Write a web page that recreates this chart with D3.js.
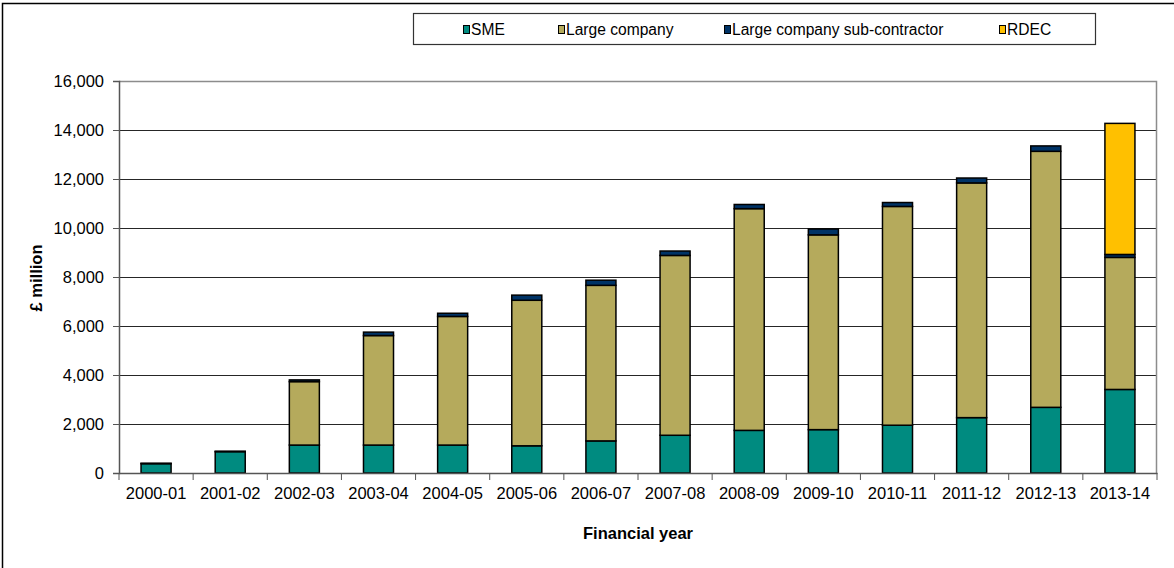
<!DOCTYPE html>
<html>
<head>
<meta charset="utf-8">
<script src="https://cdn.jsdelivr.net/npm/d3@7"></script>
<style>
  body { margin: 0; background: #fff; }
  text { font-family: Arial, "Liberation Sans", sans-serif; fill: #000; }
</style>
</head>
<body>
<div id="chart"></div>
<script>
// categorias e séries
const years = ["2000-01", "2001-02", "2002-03", "2003-04", "2004-05", "2005-06", "2006-07",
  "2007-08", "2008-09", "2009-10", "2010-11", "2011-12", "2012-13", "2013-14"];
const sme = [380, 870, 1140, 1140, 1140, 1110, 1310, 1540, 1740, 1770, 1950, 2260, 2680, 3410];
const largeCompany = [0, 0, 2590, 4470, 5250, 5940, 6350, 7340, 9050, 7950, 8930, 9580, 10450, 5390];
const subContractor = [20, 20, 70, 140, 130, 210, 210, 180, 170, 240, 160, 200, 220, 120];
const rdec = [0, 0, 0, 0, 0, 0, 0, 0, 0, 0, 0, 0, 0, 5350];
const yTicks = [0, 2000, 4000, 6000, 8000, 10000, 12000, 14000, 16000];

const seriesNames = ["SME", "Large company", "Large company sub-contractor", "RDEC"];
const colors = ["#008b80", "#b5aa5c", "#003366", "#ffc000"];

const W = 1174, H = 568;
const margin = {top: 81, right: 17, bottom: 95, left: 119},
  width = W - margin.left - margin.right,
  height = H - margin.top - margin.bottom;

const svgRoot = d3.select("#chart").append("svg")
  .attr("width", W)
  .attr("height", H);

// moldura externa
svgRoot.append("rect")
  .attr("x", 2.5).attr("y", 3.5)
  .attr("width", W + 10).attr("height", H + 10)
  .attr("fill", "none").attr("stroke", "#000").attr("stroke-width", 1.5);

const svg = svgRoot.append("g")
  .attr("transform", `translate(${margin.left},${margin.top})`);

const rows = years.map((y, i) => ({
  year: y,
  "SME": sme[i],
  "Large company": largeCompany[i],
  "Large company sub-contractor": subContractor[i],
  "RDEC": rdec[i]
}));

const x = d3.scaleBand().domain(years).range([0, width]).paddingInner(0.595).paddingOuter(0.2975);
const xTicks = d3.scaleBand().domain(years).range([0, width]);
const y = d3.scaleLinear().domain([0, 16000]).range([height, 0]);

// linhas de grade
svg.append("g")
  .selectAll("line")
  .data(yTicks.slice(1))
  .join("line")
  .attr("x1", 0).attr("x2", width)
  .attr("y1", d => Math.round(y(d)) + 0.5).attr("y2", d => Math.round(y(d)) + 0.5)
  .attr("stroke", "#262626").attr("stroke-width", 1);

// borda da área do gráfico (topo e direita)
svg.append("path")
  .attr("d", `M0,0.5H${width - 0.5}V${height}`)
  .attr("fill", "none").attr("stroke", "#8c8c8c").attr("stroke-width", 1.5);

// barras empilhadas
const stack = d3.stack().keys(seriesNames)(rows);
svg.append("g")
  .selectAll("g")
  .data(stack)
  .join("g")
  .attr("fill", (d, i) => colors[i])
  .selectAll("rect")
  .data(d => d.filter(p => p[1] - p[0] > 0))
  .join("rect")
  .attr("x", d => x(d.data.year))
  .attr("width", x.bandwidth())
  .attr("y", d => y(d[1]))
  .attr("height", d => y(d[0]) - y(d[1]))
  .attr("stroke", "#000")
  .attr("stroke-width", 1.5);

// eixo y
const yAxis = svg.append("g")
  .call(d3.axisLeft(y).tickValues(yTicks).tickSize(6).tickPadding(9)
    .tickFormat(d3.format(",")));
yAxis.select(".domain").attr("stroke", "#555").attr("stroke-width", 1.5);
yAxis.selectAll(".tick line").attr("stroke", "#555");
yAxis.selectAll("text").style("font-size", "16.5px").attr("dy", "0.36em");

// eixo x
const xAxis = svg.append("g")
  .attr("transform", `translate(0,${height})`)
  .call(d3.axisBottom(xTicks).tickSize(0).tickPadding(14));
xAxis.select(".domain").attr("stroke", "#555").attr("stroke-width", 1.5);
xAxis.selectAll("text").style("font-size", "16.5px");
svg.append("g")
  .selectAll("line")
  .data(years.concat(["end"]))
  .join("line")
  .attr("x1", (d, i) => i * xTicks.step()).attr("x2", (d, i) => i * xTicks.step())
  .attr("y1", height).attr("y2", height + 7)
  .attr("stroke", "#555");

// rótulos dos eixos
svgRoot.append("text")
  .attr("x", margin.left + width / 2)
  .attr("y", 539)
  .attr("text-anchor", "middle")
  .style("font-size", "16.5px")
  .style("font-weight", "bold")
  .text("Financial year");

svgRoot.append("text")
  .attr("transform", `translate(42,278) rotate(-90)`)
  .attr("text-anchor", "middle")
  .style("font-size", "16.5px")
  .style("font-weight", "bold")
  .text("£ million");

// legenda
const legend = svgRoot.append("g");
legend.append("rect")
  .attr("x", 413.5).attr("y", 13.5)
  .attr("width", 682).attr("height", 31)
  .attr("fill", "#fff").attr("stroke", "#333").attr("stroke-width", 1.2);

const legendX = [463, 558, 724, 999];
const items = legend.selectAll("g.item")
  .data(seriesNames)
  .join("g")
  .attr("class", "item")
  .attr("transform", (d, i) => `translate(${legendX[i]},25)`);
items.append("rect")
  .attr("x", 0.5).attr("y", 0.5)
  .attr("width", 6).attr("height", 8)
  .attr("fill", (d, i) => colors[i])
  .attr("stroke", "#000").attr("stroke-width", 1);
items.append("text")
  .attr("x", 8).attr("y", 10)
  .style("font-size", "15.6px")
  .text(d => d);
</script>
</body>
</html>
